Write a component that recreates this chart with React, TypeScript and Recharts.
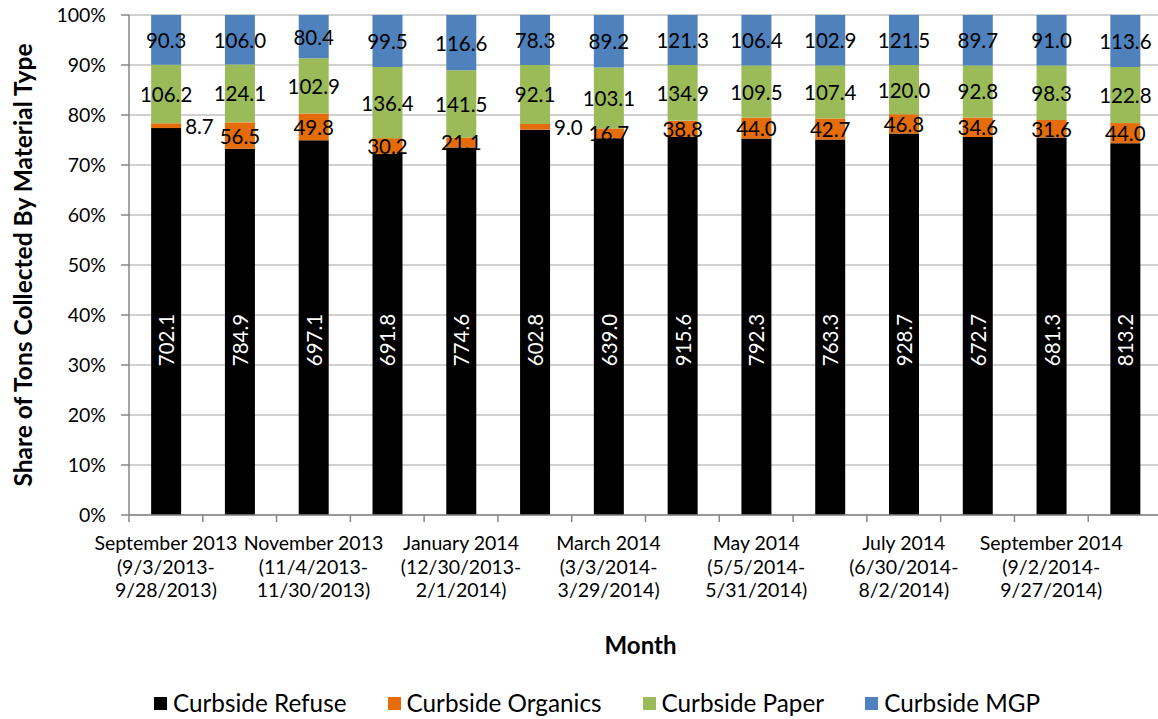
import React from "react";
import { BarChart, Bar, XAxis, YAxis, CartesianGrid, Legend, LabelList } from "recharts";

const months = [
  "September 2013", "October 2013", "November 2013", "December 2013", "January 2014",
  "February 2014", "March 2014", "April 2014", "May 2014", "June 2014",
  "July 2014", "August 2014", "September 2014", "October 2014",
];
const rangeStart = [
  "(9/3/2013-", "", "(11/4/2013-", "", "(12/30/2013-", "", "(3/3/2014-", "",
  "(5/5/2014-", "", "(6/30/2014-", "", "(9/2/2014-", "",
];
const rangeEnd = [
  "9/28/2013)", "", "11/30/2013)", "", "2/1/2014)", "", "3/29/2014)", "",
  "5/31/2014)", "", "8/2/2014)", "", "9/27/2014)", "",
];
const seriesNames = ["Curbside Refuse", "Curbside Organics", "Curbside Paper", "Curbside MGP"];
const refuse = [702.1, 784.9, 697.1, 691.8, 774.6, 602.8, 639.0, 915.6, 792.3, 763.3, 928.7, 672.7, 681.3, 813.2];
const organics = [8.7, 56.5, 49.8, 30.2, 21.1, 9.0, 16.7, 38.8, 44.0, 42.7, 46.8, 34.6, 31.6, 44.0];
const paper = [106.2, 124.1, 102.9, 136.4, 141.5, 92.1, 103.1, 134.9, 109.5, 107.4, 120.0, 92.8, 98.3, 122.8];
const mgp = [90.3, 106.0, 80.4, 99.5, 116.6, 78.3, 89.2, 121.3, 106.4, 102.9, 121.5, 89.7, 91.0, 113.6];
const yTicks = [0, 0.1, 0.2, 0.3, 0.4, 0.5, 0.6, 0.7, 0.8, 0.9, 1];

const data = months.map((m, i) => ({
  month: m,
  refuse: refuse[i],
  organics: organics[i],
  paper: paper[i],
  mgp: mgp[i],
}));

const FONT = "Lato, 'Liberation Sans', sans-serif";
const AXIS = "#868686";
const GRID = "#c0c0c0";
const LABEL_SIZE = 20.5;

const XTick = (props: any) => {
  const { x, y, payload, index, width, visibleTicksCount } = props;
  const half = payload && typeof payload.offset === "number" && payload.offset > 0
    ? payload.offset
    : width / visibleTicksCount / 2;
  const show = index % 2 === 0;
  const lines = show ? [months[index], rangeStart[index], rangeEnd[index]] : [];
  return (
    <g>
      <line x1={x - half} x2={x - half} y1={y} y2={y + 7} stroke={AXIS} strokeWidth={1.5} />
      {lines.map((l, i) => (
        <text key={i} x={x} y={y + 35 + i * 23.5} textAnchor="middle" fontFamily={FONT} fontSize={19.5} fill="#000">
          {l}
        </text>
      ))}
    </g>
  );
};

const refuseLabel = (props: any) => {
  const { x, y, width, height, value } = props;
  const cx = x + width / 2;
  const cy = y + height - 175;
  return (
    <text x={cx} y={cy} transform={`rotate(-90 ${cx} ${cy})`} textAnchor="middle" dominantBaseline="central"
      fontFamily={FONT} fontSize={LABEL_SIZE} fill="#fff">
      {Number(value).toFixed(1)}
    </text>
  );
};

const centerLabel = (props: any) => {
  const { x, y, width, height, value } = props;
  return (
    <text x={x + width / 2} y={y + height / 2} textAnchor="middle" dominantBaseline="central"
      fontFamily={FONT} fontSize={LABEL_SIZE} fill="#000">
      {Number(value).toFixed(1)}
    </text>
  );
};

const organicsLabel = (props: any) => {
  const { x, y, width, height, value } = props;
  if (Number(value) < 10) {
    return (
      <text x={x + width + 4} y={y + height / 2} textAnchor="start" dominantBaseline="central"
        fontFamily={FONT} fontSize={LABEL_SIZE} fill="#000">
        {Number(value).toFixed(1)}
      </text>
    );
  }
  return centerLabel(props);
};

const LegendContent = (props: any) => {
  const payload = [...(props.payload || [])].sort(
    (a: any, b: any) => seriesNames.indexOf(a.value) - seriesNames.indexOf(b.value)
  );
  return (
    <div style={{ display: "flex", justifyContent: "center", paddingTop: 34, paddingLeft: 32, fontFamily: FONT, fontSize: 24.3, color: "#000", lineHeight: "28px" }}>
      {payload.map((p: any, i: number) => (
        <div key={i} style={{ display: "flex", alignItems: "center", marginRight: i < payload.length - 1 ? 41 : 0 }}>
          <span style={{ display: "inline-block", width: 13, height: 13, background: p.color, marginRight: 6 }} />
          <span>{p.value}</span>
        </div>
      ))}
    </div>
  );
};

export default function App() {
  return (
    <div style={{ position: "absolute", left: 0, top: 0, width: 1158, height: 719, overflow: "hidden", background: "#fff" }}>
      <BarChart
        width={1170}
        height={719}
        data={data}
        stackOffset="expand"
        barCategoryGap="30%"
        margin={{ top: 15, right: 8, left: 0, bottom: 0 }}
      >
        <CartesianGrid vertical={false} stroke={GRID} strokeWidth={1.5} />
        <XAxis
          dataKey="month"
          interval={0}
          height={140}
          tickSize={0}
          tickMargin={0}
          tickLine={false}
          axisLine={{ stroke: AXIS, strokeWidth: 1.5 }}
          tick={<XTick />}
          label={(p: any) => {
            const vb = p.viewBox || {};
            return (
              <text x={vb.x + vb.width / 2 - 5} y={654} textAnchor="middle" fontFamily={FONT} fontSize={24} fontWeight="bold" fill="#000">
                Month
              </text>
            );
          }}
        />
        <YAxis
          width={129}
          domain={[0, 1]}
          ticks={yTicks}
          tickFormatter={(v: number) => `${Math.round(v * 100)}%`}
          tickSize={8}
          tickMargin={15}
          tick={{ fontFamily: FONT, fontSize: 19.5, fill: "#000" }}
          tickLine={{ stroke: AXIS, strokeWidth: 1.5 }}
          axisLine={{ stroke: AXIS, strokeWidth: 1.5 }}
          label={(p: any) => {
            const vb = p.viewBox || {};
            const cx = 22;
            const cy = vb.y + vb.height / 2;
            return (
              <text x={cx} y={cy} transform={`rotate(-90 ${cx} ${cy})`} textAnchor="middle" dominantBaseline="central"
                fontFamily={FONT} fontSize={24.5} fontWeight="bold" fill="#000">
                Share of Tons Collected By Material Type
              </text>
            );
          }}
        />
        <Legend verticalAlign="bottom" wrapperStyle={{ height: 64 }} content={<LegendContent />} />
        <Bar dataKey="refuse" name="Curbside Refuse" stackId="a" fill="#000000" isAnimationActive={false}>
          <LabelList dataKey="refuse" content={refuseLabel} />
        </Bar>
        <Bar dataKey="organics" name="Curbside Organics" stackId="a" fill="#E46C0A" isAnimationActive={false}>
          <LabelList dataKey="organics" content={organicsLabel} />
        </Bar>
        <Bar dataKey="paper" name="Curbside Paper" stackId="a" fill="#9BBB59" isAnimationActive={false}>
          <LabelList dataKey="paper" content={centerLabel} />
        </Bar>
        <Bar dataKey="mgp" name="Curbside MGP" stackId="a" fill="#4F81BD" isAnimationActive={false}>
          <LabelList dataKey="mgp" content={centerLabel} />
        </Bar>
      </BarChart>
    </div>
  );
}
